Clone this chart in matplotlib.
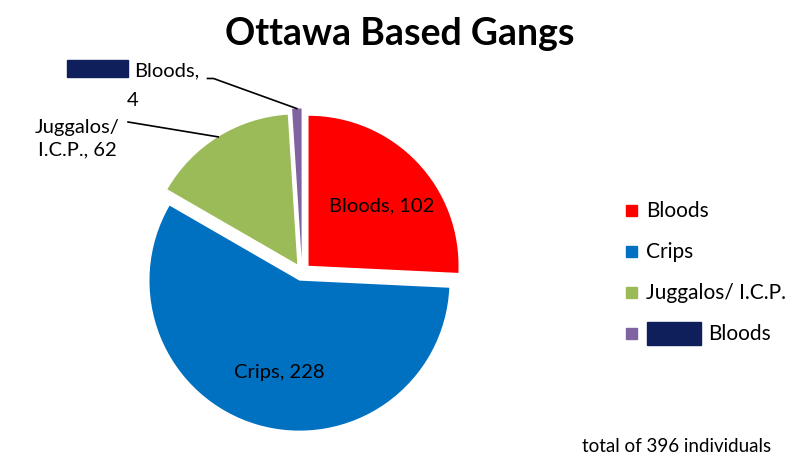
import numpy as np
import matplotlib.pyplot as plt
from matplotlib.patches import Rectangle

# data
gangs = ['Bloods', 'Crips', 'Juggalos/ I.C.P.', 'Vanier Bloods']
members = [102, 228, 62, 4]
colors = ['#FF0000', '#0070C0', '#9BBB59', '#8064A2']
explode = [0.06, 0.06, 0.06, 0.09]
redact = '#0E1F5B'

plt.rcParams['font.family'] = ['Lato', 'DejaVu Sans']

fig = plt.figure(figsize=(7.99, 4.72), dpi=100)
ax = fig.add_axes([0.1527, 0.0424, 0.4506, 0.7627])

wedges, _ = ax.pie(members, colors=colors, explode=explode, startangle=90,
                   counterclock=False, radius=1.0,
                   wedgeprops=dict(linewidth=0))
ax.set_xlim(-1.2, 1.2)
ax.set_ylim(-1.2, 1.2)
ax.axis('off')

def mid(w):
    return np.deg2rad((w.theta1 + w.theta2) / 2)

# inside labels
for i, r, da in [(0, 0.63, -4), (1, 0.63, 4)]:
    a = mid(wedges[i]) + np.deg2rad(da)
    cx, cy = wedges[i].center
    ax.text(cx + r * np.cos(a), cy + r * np.sin(a),
            f'{gangs[i]}, {members[i]}', ha='center', va='center',
            fontsize=14.5, color='black')

# Juggalos outside label with leader line
a = mid(wedges[2])
cx, cy = wedges[2].center
edge = (cx + np.cos(a), cy + np.sin(a))
ax.plot([-1.16, edge[0]], [1.0, edge[1]], color='black', lw=1.2, clip_on=False)
ax.text(-1.50, 0.89, 'Juggalos/\nI.C.P., 62', ha='center', va='center',
        fontsize=14.5, linespacing=1.35)

# small slice label (name partly redacted)
a = mid(wedges[3])
cx, cy = wedges[3].center
edge = (cx + np.cos(a), cy + np.sin(a))
ax.plot([-0.63, -0.59, edge[0]], [1.29, 1.29, edge[1]], color='black',
        lw=1.2, clip_on=False)
ax.text(-1.12, 1.34, 'Bloods,', ha='left', va='center', fontsize=14.5)
ax.text(-1.13, 1.14, str(members[3]), ha='center', va='center', fontsize=14.5)
fig.patches.append(Rectangle((67 / 799, 1 - 77 / 472), 61 / 799, 17 / 472,
                             transform=fig.transFigure, color=redact))

fig.text(0.5, 0.928, 'Ottawa Based Gangs', ha='center', va='center',
         fontsize=27, fontweight='bold')

# legend
ys = [211, 252, 293, 334]
for g, c, y in zip(gangs, colors, ys):
    fig.patches.append(Rectangle((626 / 799, 1 - (y + 5) / 472), 11 / 799, 11 / 472,
                                 transform=fig.transFigure, color=c))
    label = g if g != 'Vanier Bloods' else 'Bloods'
    x = 646 if g != 'Vanier Bloods' else 708
    fig.text(x / 799, 1 - y / 472, label, ha='left', va='center', fontsize=15)
fig.patches.append(Rectangle((647 / 799, 1 - 345 / 472), 54 / 799, 23 / 472,
                             transform=fig.transFigure, color=redact))

fig.text(582 / 799, 1 - 447 / 472, f'total of {sum(members)} individuals',
         ha='left', va='center', fontsize=13.5)

fig.savefig('out.png', dpi=100)
